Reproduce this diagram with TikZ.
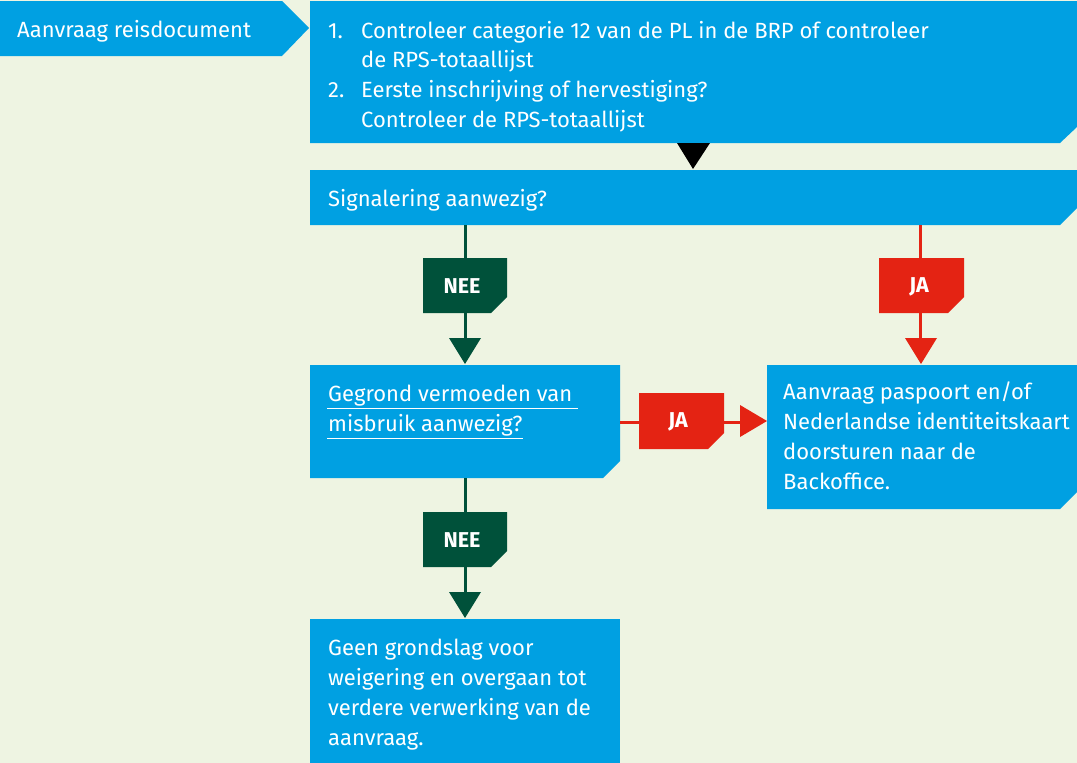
\documentclass[tikz,border=0pt]{standalone}
\usepackage{fontspec}
\setmainfont{Fira Sans}
\definecolor{bg}{RGB}{238,244,226}
\definecolor{rblue}{RGB}{0,160,226}
\definecolor{rgreen}{RGB}{0,81,58}
\definecolor{rred}{RGB}{228,35,19}
\begin{document}
\begin{tikzpicture}[x=1pt,y=-1pt,
  txt/.style={anchor=base west,inner sep=0pt,text=white,font=\fontsize{22}{26}\selectfont},
  lbl/.style={inner sep=0pt,text=white,font=\fontsize{21.5}{24}\selectfont\bfseries},
  conn/.style={line width=3pt},
]
\fill[bg] (0,0) rectangle (1077,763);
\useasboundingbox (0,0) rectangle (1077,763);
% start arrow
\fill[rblue] (0,1) -- (282,1) -- (309,28) -- (282,56) -- (0,56) -- cycle;
\node[txt] (start) at (17,37) {Aanvraag reisdocument};
% box 1
\fill[rblue] (310,1) -- (1077,1) -- (1077,127) -- (1060,143) -- (310,143) -- cycle;
\node[txt] (n1) at (328,38) {1.};
\node[txt] (t1a) at (361,38) {Controleer categorie 12 van de PL in de BRP of controleer};
\node[txt] (t1b) at (361,67) {de RPS-totaallijst};
\node[txt] (n2) at (328,97) {2.};
\node[txt] (t2a) at (361,97) {Eerste inschrijving of hervestiging?};
\node[txt] (t2b) at (361,127) {Controleer de RPS-totaallijst};
\fill[black] (677,143) -- (710,143) -- (693,169) -- cycle;
% signalering
\fill[rblue] (310,170) -- (1077,170) -- (1077,208) -- (1060,225) -- (310,225) -- cycle;
\node[txt] (sig) at (328,206) {Signalering aanwezig?};
% NEE 1
\coordinate (s1) at (465,225);
\draw[rgreen,conn] (s1) -- (465,338);
\fill[rgreen] (423,258) -- (507,258) -- (507,297) -- (491,313) -- (423,313) -- cycle;
\node[lbl] (nee1) at (462,286) {NEE};
\fill[rgreen] (449,338) -- (481,338) -- (465,364) -- cycle;
% JA 1
\draw[rred,conn] (920,225) -- (920,338);
\fill[rred] (879,258) -- (964,258) -- (964,297) -- (948,313) -- (879,313) -- cycle;
\node[lbl] (ja1) at (919,287) {JA};
\fill[rred] (905,338) -- (937,338) -- (921,364) -- cycle;
% gegrond
\fill[rblue] (310,365) -- (620,365) -- (620,461) -- (603,478) -- (310,478) -- cycle;
\node[txt] (g1) at (328,401) {Gegrond vermoeden van};
\node[txt] (g2) at (328,431) {misbruik aanwezig?};
\draw[white,line width=1pt] (327,408) -- (578,408);
\draw[white,line width=1pt] (327,438) -- (523,438);
% JA 2
\draw[rred,conn] (620,422) -- (740,422);
\fill[rred] (639,393) -- (724,393) -- (724,433) -- (708,449) -- (639,449) -- cycle;
\node[lbl] (ja2) at (678,422) {JA};
\fill[rred] (740,405) -- (740,437) -- (767,421) -- cycle;
% paspoort
\fill[rblue] (767,365) -- (1077,365) -- (1077,492) -- (1060,509) -- (767,509) -- cycle;
\node[txt] (p1) at (783,399) {Aanvraag paspoort en/of};
\node[txt] (p2) at (783,429) {Nederlandse identiteitskaart};
\node[txt] (p3) at (783,459) {doorsturen naar de};
\node[txt] (p4) at (783,489) {Backoffice.};
% NEE 2
\draw[rgreen,conn] (465,478) -- (465,592);
\fill[rgreen] (423,512) -- (507,512) -- (507,551) -- (491,567) -- (423,567) -- cycle;
\node[lbl] (nee2) at (462,540) {NEE};
\fill[rgreen] (449,592) -- (481,592) -- (465,618) -- cycle;
% geen
\fill[rblue] (310,619) rectangle (620,763);
\node[txt] (e1) at (328,655) {Geen grondslag voor};
\node[txt] (e2) at (328,685) {weigering en overgaan tot};
\node[txt] (e3) at (328,715) {verdere verwerking van de};
\node[txt] (e4) at (328,745) {aanvraag.};
\end{tikzpicture}
\end{document}
